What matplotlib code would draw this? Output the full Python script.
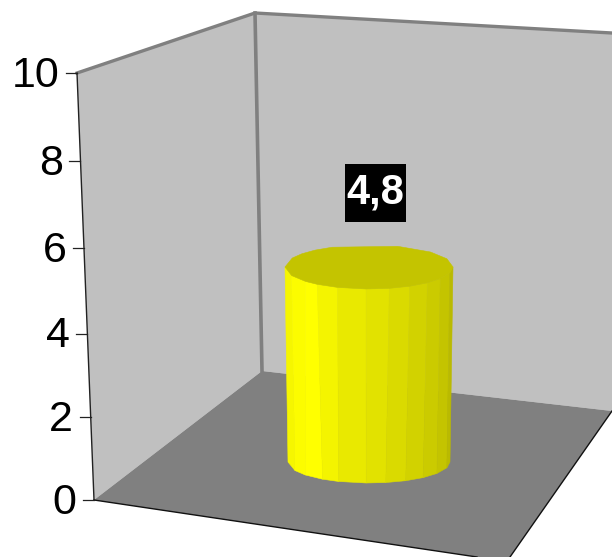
import numpy as np
import matplotlib
matplotlib.use("Agg")
import matplotlib.pyplot as plt
from matplotlib.patches import Polygon, Rectangle

# Data
series_value = 4.8
value_label = "4,8"
tick_values = [0, 2, 4, 6, 8, 10]
tick_labels = ["0", "2", "4", "6", "8", "10"]
axis_max = 10

plt.rcParams['font.family'] = ['Liberation Sans', 'DejaVu Sans']
fig = plt.figure(figsize=(6.12, 5.57), dpi=100)
ax = fig.add_axes([0, 0, 1, 1])
ax.set_xlim(0, 612)
ax.set_ylim(557, 0)
ax.axis('off')

WALL = '#c0c0c0'
FLOOR = '#808080'


def axis_y(v):
    """Perspective scale of the value axis."""
    return (500 - 43 * v) / (1 - 0.00413 * v)


def axis_x(v):
    return 94 - 1.7 * v


# Scene corners
left_top = (axis_x(axis_max), axis_y(axis_max))
left_bottom = (axis_x(0), axis_y(0))
back_top = (255, 13)
back_bottom = (262, 371)
right_top = (612, 33)
right_bottom = (612, 411)
front_clip_right = (510, 557)
front_clip_left = (477, 557)

ax.add_patch(Polygon([left_top, back_top, back_bottom, left_bottom], fc=WALL, ec='none'))
ax.add_patch(Polygon([back_top, right_top, right_bottom, back_bottom], fc=WALL, ec='none'))
ax.add_patch(Polygon([left_bottom, back_bottom, right_bottom, front_clip_right, front_clip_left],
                     fc=FLOOR, ec='none'))

# Wall edges
ax.plot(*zip(left_top, back_top, right_top), color=FLOOR, lw=2.4, solid_joinstyle='miter')
ax.plot(*zip(back_top, back_bottom), color=FLOOR, lw=2.6)
ax.plot(*zip(left_top, left_bottom), color='#222222', lw=1.0)
ax.plot(*zip(left_bottom, front_clip_left), color='#111111', lw=1.0)
ax.plot(*zip(right_bottom, front_clip_right), color='#111111', lw=1.0)

# Value axis ticks and labels
for v, lab in zip(tick_values, tick_labels):
    x, y = axis_x(v), axis_y(v)
    ax.plot([x - 11, x], [y, y], color='#222222', lw=0.9)
    ax.text(x - 17.5, y - 2, lab, ha='right', va='center_baseline', fontsize=31, color='black')

# Cylinder, built from the value
center_x = 369
base_y = 462
px_per_unit = 195 / 4.8
top_y = base_y - series_value * px_per_unit
base_rx, base_ry = 81, 21
top_rx, top_ry = base_rx + 0.625 * series_value, 22

front_angles = np.radians([180, 157, 139, 128, 112, 92, 76, 61, 46, 32, 16, 0])
base_angles = np.radians([180, 156, 142, 125, 112, 92, 78, 63, 48, 33, 16, 0])
back_angles = np.radians([0, 22, 43, 70, 116, 130, 143, 156, 180])
facet_colors = ['#f6f600', '#fcfc00', '#ffff00', '#f4f400', '#e9e900', '#e2e200',
                '#dada00', '#d2d200', '#cbcb00', '#c4c400', '#baba00']


def ring(angles, cy, rx, ry, direction):
    return np.column_stack([center_x + rx * np.cos(angles),
                            cy + direction * ry * np.sin(angles)])


top_front = ring(front_angles, top_y, top_rx, top_ry, 1)
base_front = ring(base_angles, base_y, base_rx, base_ry, 1)
for i, col in enumerate(facet_colors):
    quad = [top_front[i], top_front[i + 1], base_front[i + 1], base_front[i]]
    ax.add_patch(Polygon(quad, fc=col, ec=col, lw=0.4, joinstyle='round'))

top_back = ring(back_angles, top_y, top_rx, top_ry, -1)
ax.add_patch(Polygon(np.vstack([top_front, top_back[1:-1]]),
                     fc='#c4c400', ec='#c4c400', lw=0.4))

# Data label
ax.add_patch(Rectangle((345, 164), 61, 58, fc='black', ec='none', zorder=5))
ax.text(375.5, 188, value_label, ha='center', va='center_baseline', fontsize=30, fontweight='bold',
        color='white', zorder=6)

fig.savefig('out.png', dpi=100)
